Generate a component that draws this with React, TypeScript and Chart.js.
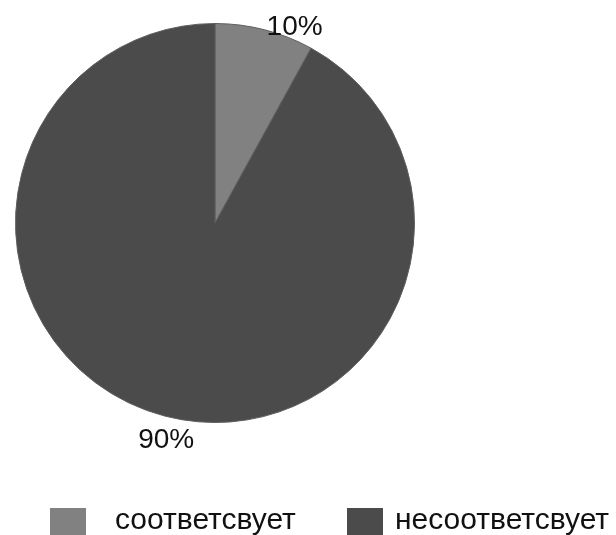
import React, { useEffect, useRef } from "react";
import { Chart, registerables } from "chart.js";

Chart.register(...registerables);

const categories = ["соответсвует", "несоответсвует"];
const values = [8, 92];
const percentLabels = ["10%", "90%"];
const colors = ["#818181", "#4b4b4b"];

const FONT = "'Liberation Sans', Arial, sans-serif";

const overlayPlugin = {
  id: "overlay",
  afterDraw(chart: any) {
    const ctx = chart.ctx as CanvasRenderingContext2D;
    const meta = chart.getDatasetMeta(0);
    ctx.save();
    ctx.fillStyle = "#111111";
    ctx.font = `28px ${FONT}`;
    meta.data.forEach((arc: any, i: number) => {
      const { x, y, startAngle, endAngle, outerRadius } = arc.getProps(
        ["x", "y", "startAngle", "endAngle", "outerRadius"],
        true
      );
      const mid = (startAngle + endAngle) / 2;
      const frac = (endAngle - startAngle) / (Math.PI * 2);
      const text = percentLabels[i];
      if (frac < 0.25) {
        const px = x + Math.cos(mid) * outerRadius;
        const py = y + Math.sin(mid) * outerRadius;
        ctx.textAlign = "left";
        ctx.textBaseline = "alphabetic";
        ctx.fillText(text, px + 2, py + 5);
      } else {
        const d = outerRadius + 25;
        const px = x + Math.cos(mid) * d;
        const py = y + Math.sin(mid) * d;
        ctx.textAlign = "center";
        ctx.textBaseline = "middle";
        ctx.fillText(text, px + 7, py);
      }
    });

    // legend
    const boxW = 36;
    const boxH = 30;
    const top = 508;
    const starts = [50, 347];
    const gaps = [29, 12];
    ctx.font = `30px ${FONT}`;
    ctx.textAlign = "left";
    ctx.textBaseline = "alphabetic";
    categories.forEach((c, i) => {
      ctx.fillStyle = colors[i];
      ctx.fillRect(starts[i], top, boxW, boxH);
      ctx.fillStyle = "#111111";
      ctx.fillText(c, starts[i] + boxW + gaps[i], 529);
    });
    ctx.restore();
  },
};

export default function App() {
  const ref = useRef<HTMLCanvasElement | null>(null);
  useEffect(() => {
    if (!ref.current) return;
    const chart = new Chart(ref.current, {
      type: "pie",
      data: {
        labels: categories,
        datasets: [
          {
            data: values,
            backgroundColor: colors,
            borderColor: "#5e5e5e",
            borderWidth: 1,
          },
        ],
      },
      options: {
        animation: false,
        responsive: true,
        maintainAspectRatio: false,
        layout: { padding: { left: 15, right: 201, top: 23, bottom: 112 } },
        plugins: {
          legend: { display: false },
          tooltip: { enabled: false },
        },
      },
      plugins: [overlayPlugin],
    });
    return () => chart.destroy();
  }, []);
  return (
    <div style={{ position: "absolute", left: 0, top: 0, width: 616, height: 535, background: "#ffffff" }}>
      <canvas ref={ref} />
    </div>
  );
}
